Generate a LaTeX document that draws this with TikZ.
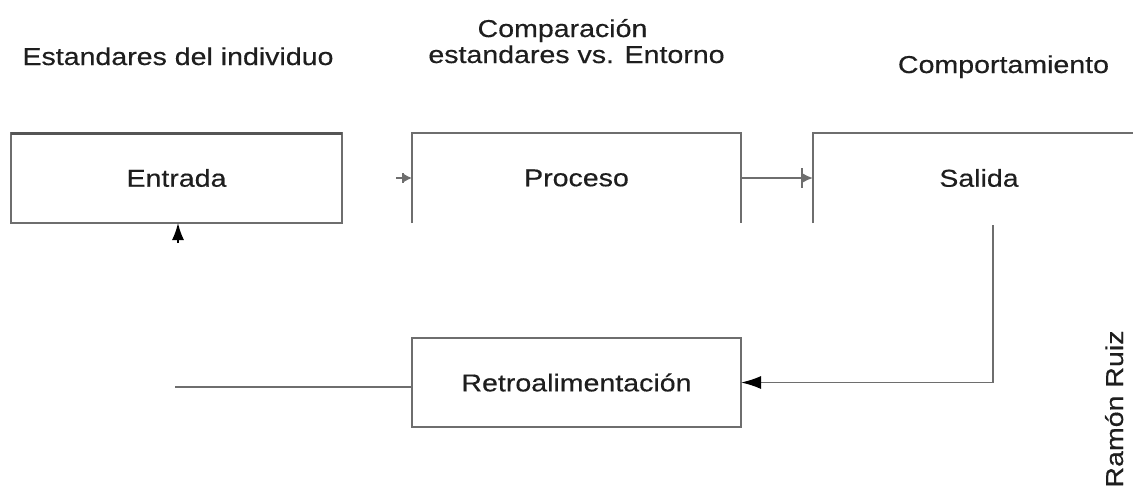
\documentclass[tikz,border=0pt]{standalone}
\usepackage{fontspec}
\setmainfont{Liberation Sans}[FakeStretch=1.17,FakeBold=0.4]
\usetikzlibrary{arrows.meta}
\definecolor{linegray}{RGB}{110,110,110}
\definecolor{topgray}{RGB}{85,85,85}
\definecolor{txt}{RGB}{30,30,30}
\begin{document}
\begin{tikzpicture}[x=1pt,y=-1pt,
  lbl/.style={font=\fontsize{24.4}{29}\selectfont, text=txt, inner sep=0pt},
  blk/.style={lbl, minimum height=90pt, outer sep=0pt},
  ln/.style={draw=linegray, line width=1.6pt},
  smalltip/.style={-{Bar[width=10pt,line width=2pt]Latex[length=8pt,width=8pt]}},
  bigtip/.style={-{Bar[width=20pt,line width=2.5pt]Latex[length=10pt,width=9pt]}},
  blacktip/.style={-{Latex[length=20pt,width=13pt,color=black]}}]
\useasboundingbox (0,0) rectangle (1133,490);
\fill[white] (0,0) rectangle (1133,490);

% titles
\node[lbl, anchor=base] (t1) at (178,65) {Estandares del individuo};
\node[lbl, anchor=base] (t2a) at (562.5,37) {Comparación};
\node[lbl, anchor=base] (t2b) at (576.5,63) {estandares vs. Entorno};
\node[lbl, anchor=base] (t3) at (1003.5,73) {Comportamiento};

% blocks
\node[blk, minimum width=331pt] (entrada) at (176.5,178) {Entrada};
\node[blk, minimum width=329pt] (proceso) at (576.5,178) {Proceso};
\node[blk, minimum width=332pt] (salida) at (979,178) {Salida};
\node[blk, minimum width=329pt, minimum height=89pt] (retro) at (576.5,382.5) {Retroalimentación};

\draw[ln] (entrada.north west) rectangle (entrada.south east);
\draw[draw=topgray, line width=3pt] (entrada.north west) -- (entrada.north east);
\draw[ln] (proceso.south west) |- (proceso.north east) -- (proceso.south east);
\coordinate (redge) at (1133,133);
\draw[ln] (salida.south west) -- (salida.north west) -- (salida.north west -| redge);
\draw[ln] (retro.north west) rectangle (retro.south east);

% connectors
\coordinate (pin) at (396,178);
\draw[ln, line width=1.2pt, smalltip] (pin) -- (proceso.west);
\draw[ln, bigtip] (proceso.east) -- (salida.west);

\coordinate (sdrop) at (993,225);
\draw[ln, blacktip] (sdrop) |- (retro.east);

\coordinate (fbend) at (175,387);
\draw[ln] (fbend) -- (fbend -| retro.west);

\coordinate (eup) at (178,243);
\draw[black, line width=1.5pt, -{Latex[length=17pt,width=12pt]}] (eup) -- (eup |- entrada.south);

% author
\node[lbl, anchor=base, rotate=90] (author) at (1123,409) {Ramón Ruiz};
\end{tikzpicture}
\end{document}
